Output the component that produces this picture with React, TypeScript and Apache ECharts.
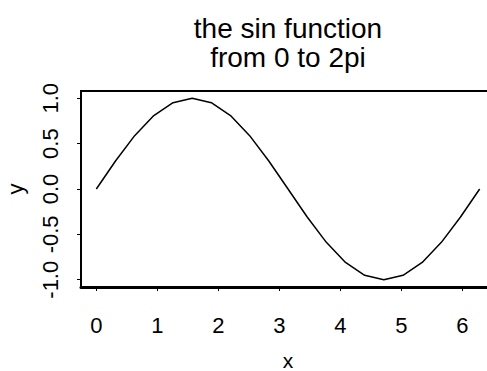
import React, { useEffect, useRef } from "react";
import * as echarts from "echarts";

// sin(x) sampled at 21 evenly spaced points over [0, 2pi]
const xValues = [
  0, 0.314, 0.628, 0.942, 1.257, 1.571, 1.885, 2.199, 2.513, 2.827, 3.142,
  3.456, 3.770, 4.084, 4.398, 4.712, 5.027, 5.341, 5.655, 5.969, 6.283,
];
const yValues = [
  0, 0.309, 0.588, 0.809, 0.951, 1.0, 0.951, 0.809, 0.588, 0.309, 0.0,
  -0.309, -0.588, -0.809, -0.951, -1.0, -0.951, -0.809, -0.588, -0.309, 0.0,
];
const xTicks = [0, 1, 2, 3, 4, 5, 6];
const yTicks = [-1, -0.5, 0, 0.5, 1];
const titleLines = ["the sin function", "from 0 to 2pi"];
const xName = "x";
const yName = "y";

const FONT = "'Liberation Sans', Arial, Helvetica, sans-serif";

export default function App() {
  const ref = useRef<HTMLDivElement>(null);

  useEffect(() => {
    document.body.style.margin = "0";
    if (!ref.current) return;
    const chart = echarts.init(ref.current, undefined, { renderer: "svg" });

    // plot range padded by 4% on each side
    const xSpan = xValues[xValues.length - 1] - xValues[0];
    const xMin = xValues[0] - 0.04 * xSpan;
    const xMax = xValues[xValues.length - 1] + 0.04 * xSpan;
    const yMin = -1.08;
    const yMax = 1.08;

    chart.setOption({
      animation: false,
      backgroundColor: "#ffffff",
      textStyle: { fontFamily: FONT },
      grid: {
        left: 81,
        top: 91,
        width: 414,
        height: 196,
        show: true,
        borderColor: "#000",
        borderWidth: 2,
        backgroundColor: "transparent",
        outerBoundsMode: "none",
        containLabel: false,
      },
      graphic: [
        {
          type: "text",
          x: 288,
          y: 14,
          style: {
            text: titleLines.join("\n"),
            fill: "#000",
            font: `28px ${FONT}`,
            lineHeight: 29,
            align: "center",
            verticalAlign: "top",
          },
        },
      ],
      xAxis: {
        type: "value",
        min: xMin,
        max: xMax,
        name: xName,
        nameLocation: "middle",
        nameGap: 66,
        nameTextStyle: { color: "#000", fontSize: 21, lineHeight: 14, fontFamily: FONT },
        splitLine: { show: false },
        axisLine: { show: true, onZero: false, lineStyle: { color: "#000", width: 3 } },
        axisTick: {
          show: true,
          inside: false,
          length: 4,
          customValues: xTicks,
          lineStyle: { color: "#000", width: 1 },
        },
        axisLabel: {
          customValues: xTicks,
          color: "#000",
          fontSize: 22,
          fontFamily: FONT,
          margin: 27,
          formatter: (v: number) => String(v),
        },
      },
      yAxis: {
        type: "value",
        min: yMin,
        max: yMax,
        name: yName,
        nameLocation: "middle",
        nameGap: 55,
        nameRotate: 90,
        nameTextStyle: { color: "#000", fontSize: 22, fontFamily: FONT },
        splitLine: { show: false },
        axisLine: { show: true, onZero: false, lineStyle: { color: "#000", width: 2 } },
        axisTick: {
          show: true,
          inside: false,
          length: 4,
          customValues: yTicks,
          lineStyle: { color: "#000", width: 1 },
        },
        axisLabel: {
          customValues: yTicks,
          rotate: 90,
          color: "#000",
          fontSize: 22,
          fontFamily: FONT,
          margin: 20,
          formatter: (v: number) => v.toFixed(1),
        },
      },
      series: [
        {
          type: "line",
          data: xValues.map((x, i) => [x, yValues[i]]),
          showSymbol: false,
          symbol: "none",
          lineStyle: { color: "#000", width: 1.5 },
          clip: false,
        },
      ],
    });

    return () => chart.dispose();
  }, []);

  return <div ref={ref} style={{ width: 487, height: 371 }} />;
}
